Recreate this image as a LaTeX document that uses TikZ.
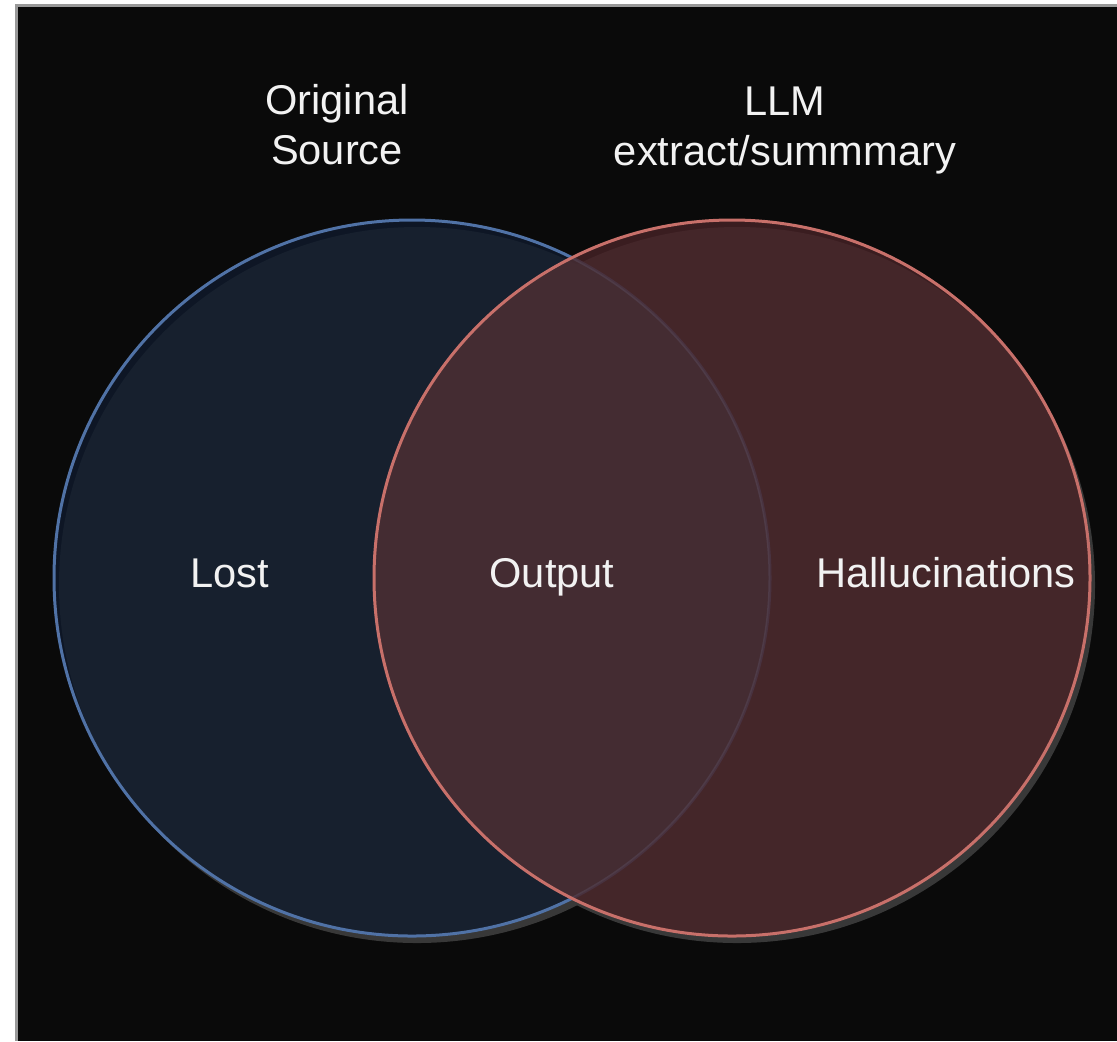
\documentclass[tikz,border=0pt]{standalone}
\usepackage{fontspec}
\setmainfont{Liberation Sans}

\definecolor{bgblack}{HTML}{0A0A0A}
\definecolor{framegray}{HTML}{999999}
\definecolor{shadowgray}{HTML}{383838}
\definecolor{srcfill}{HTML}{0F1A2C}
\definecolor{srcline}{HTML}{5072A6}
\definecolor{llmfill}{HTML}{472226}
\definecolor{llmline}{HTML}{C8706A}
\definecolor{mixtint}{HTML}{7A7D84}
\definecolor{labeltext}{HTML}{F2F2F2}

\tikzset{
  vennlabel/.style={text=labeltext, font=\fontsize{20.8}{25}\selectfont, align=center},
}

\begin{document}
\begin{tikzpicture}[x=0.5pt,y=-0.5pt]
    \useasboundingbox (0,0) rectangle (1117,1041);

    % Page and frame
    \fill[white] (0,0) rectangle (1117,1041);
    \fill[framegray] (15,4) rectangle (1117,1041);
    \fill[bgblack] (18,7) rectangle (1117,1041);

    % Centres
    \coordinate (srcc) at (412,578);
    \coordinate (llmc) at (732,578);
    \def\vennr{358}

    % Shadows
    \fill[shadowgray] ([shift={(5,7)}]srcc) circle (\vennr);
    \fill[shadowgray] ([shift={(5,7)}]llmc) circle (\vennr);

    % Original source
    \fill[srcfill, fill opacity=0.8] (srcc) circle (\vennr);
    \draw[srcline, line width=1.5pt] (srcc) circle (\vennr);

    % LLM output
    \fill[llmfill, fill opacity=0.8] (llmc) circle (\vennr);
    \begin{scope}
        \clip (srcc) circle (\vennr);
        \fill[mixtint, fill opacity=0.12] (llmc) circle (\vennr);
    \end{scope}
    \draw[llmline, line width=1.5pt] (llmc) circle (\vennr);

    % Labels
    \node[vennlabel] (srclabel) at (337,125) {Original\\Source};
    \node[vennlabel] (llmlabel) at (785,130) {LLM\\extract/summmary};
    \node[vennlabel, anchor=base] (lostlabel) at (230,587) {Lost};
    \node[vennlabel, anchor=base] (outlabel) at (552,587) {Output};
    \node[vennlabel, anchor=base] (hallulabel) at (946,587) {Hallucinations};
\end{tikzpicture}
\end{document}
